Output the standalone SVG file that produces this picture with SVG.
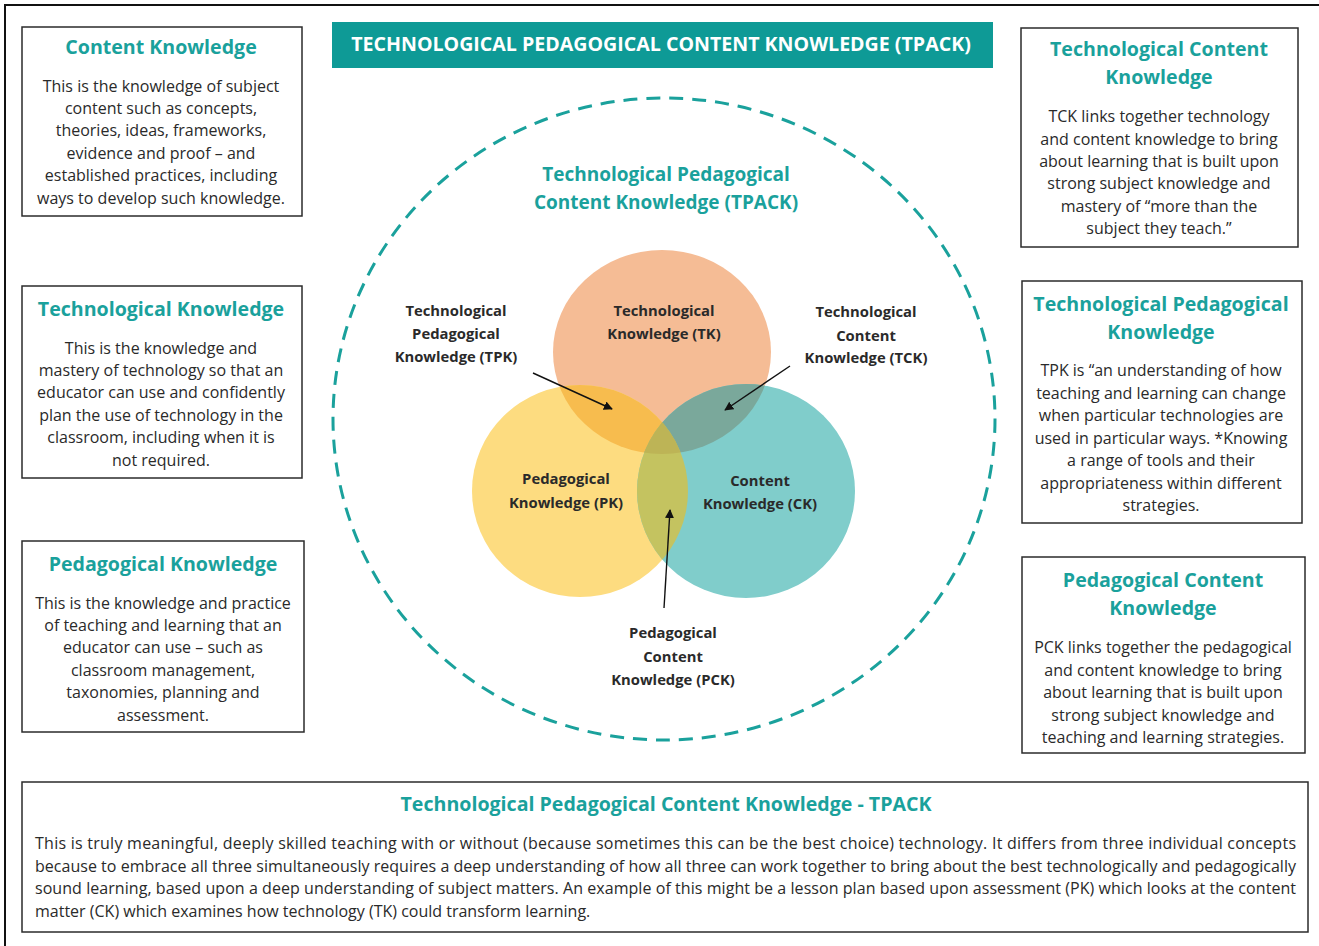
<svg xmlns="http://www.w3.org/2000/svg" width="1319" height="946" viewBox="0 0 1319 946">
<style>
.box{fill:#fff;stroke:#2b2b2b;stroke-width:1.5}
.ttl{font-family:"Open Sans",Lato,sans-serif;font-weight:bold;font-size:19.6px;fill:#1aa19c;text-anchor:middle}
.bd{font-family:"Open Sans",Lato,sans-serif;font-size:16px;fill:#2a2a2a;text-anchor:middle}
.bl{font-family:"Open Sans",Lato,sans-serif;font-size:16px;fill:#2a2a2a}
.vl{font-family:"Open Sans",Lato,sans-serif;font-weight:bold;font-size:14.8px;fill:#2a2a2a;text-anchor:middle}
.arr{stroke:#111;stroke-width:1.4;fill:none;marker-end:url(#ah)}
</style>
<defs>
<marker id="ah" viewBox="0 0 10 10" refX="9" refY="5" markerWidth="9" markerHeight="9" markerUnits="userSpaceOnUse" orient="auto">
<path d="M0,0 L10,5 L0,10 z" fill="#111"/>
</marker>
<clipPath id="cTK"><ellipse cx="662" cy="352" rx="109" ry="102"/></clipPath>
<clipPath id="cPK"><ellipse cx="580" cy="491" rx="108" ry="106"/></clipPath>
<clipPath id="cCK"><ellipse cx="746" cy="491" rx="109" ry="107"/></clipPath>
</defs>
<rect width="1319" height="946" fill="#fff"/>
<path d="M5,946 V5 H1319" fill="none" stroke="#111" stroke-width="2"/>

<g id="banner">
<rect x="332" y="22" width="661" height="46" fill="#0e9a96"/>
<text x="661" y="51" font-family="'Open Sans',Lato,sans-serif" font-weight="bold" font-size="19.6px" fill="#fff" text-anchor="middle">TECHNOLOGICAL PEDAGOGICAL CONTENT KNOWLEDGE (TPACK)</text>
</g>

<g id="tpack-ring">
<ellipse cx="664" cy="419" rx="331" ry="321" fill="none" stroke="#1aa19c" stroke-width="3" stroke-dasharray="14 9"/>
<text class="ttl" x="666" y="181" font-size="19px" style="font-size:19px">Technological Pedagogical</text>
<text class="ttl" x="666" y="209" style="font-size:19px">Content Knowledge (TPACK)</text>
</g>

<g id="venn">
<ellipse cx="662" cy="352" rx="109" ry="102" fill="#f5bc95"/>
<ellipse cx="580" cy="491" rx="108" ry="106" fill="#fddc80"/>
<ellipse cx="746" cy="491" rx="109" ry="107" fill="#80cdcb"/>
<g clip-path="url(#cTK)"><ellipse cx="580" cy="491" rx="108" ry="106" fill="#f7bc4e"/><ellipse cx="746" cy="491" rx="109" ry="107" fill="#7aa89b"/></g>
<g clip-path="url(#cPK)"><ellipse cx="746" cy="491" rx="109" ry="107" fill="#c4c360"/></g>
<g clip-path="url(#cPK)"><g clip-path="url(#cCK)"><ellipse cx="662" cy="352" rx="109" ry="102" fill="#bdb456"/></g></g>
</g>

<g id="tk-label"><text class="vl" x="664" y="316">Technological</text><text class="vl" x="664" y="339">Knowledge (TK)</text></g>
<g id="pk-label"><text class="vl" x="566" y="484">Pedagogical</text><text class="vl" x="566" y="508">Knowledge (PK)</text></g>
<g id="ck-label"><text class="vl" x="760" y="486">Content</text><text class="vl" x="760" y="509">Knowledge (CK)</text></g>
<g id="tpk-label"><text class="vl" x="456" y="316">Technological</text><text class="vl" x="456" y="339">Pedagogical</text><text class="vl" x="456" y="362">Knowledge (TPK)</text></g>
<g id="tck-label"><text class="vl" x="866" y="317">Technological</text><text class="vl" x="866" y="341">Content</text><text class="vl" x="866" y="363">Knowledge (TCK)</text></g>
<g id="pck-label"><text class="vl" x="673" y="638">Pedagogical</text><text class="vl" x="673" y="662">Content</text><text class="vl" x="673" y="685">Knowledge (PCK)</text></g>

<g id="connectors">
<line class="arr" x1="533" y1="373" x2="612" y2="409"/>
<line class="arr" x1="790" y1="366" x2="725" y2="410"/>
<line class="arr" x1="664" y1="608" x2="670" y2="510"/>
</g>

<g id="ck-box">
<rect class="box" x="22" y="27" width="280" height="189"/>
<text class="ttl" x="161" y="54">Content Knowledge</text>
<text class="bd" x="161" y="92">This is the knowledge of subject</text>
<text class="bd" x="161" y="114">content such as concepts,</text>
<text class="bd" x="161" y="136">theories, ideas, frameworks,</text>
<text class="bd" x="161" y="159">evidence and proof – and</text>
<text class="bd" x="161" y="181">established practices, including</text>
<text class="bd" x="161" y="204">ways to develop such knowledge.</text>
</g>

<g id="tk-box">
<rect class="box" x="22" y="286" width="280" height="192"/>
<text class="ttl" x="161" y="316">Technological Knowledge</text>
<text class="bd" x="161" y="354">This is the knowledge and</text>
<text class="bd" x="161" y="376">mastery of technology so that an</text>
<text class="bd" x="161" y="398">educator can use and confidently</text>
<text class="bd" x="161" y="421">plan the use of technology in the</text>
<text class="bd" x="161" y="443">classroom, including when it is</text>
<text class="bd" x="161" y="466">not required.</text>
</g>

<g id="pk-box">
<rect class="box" x="22" y="541" width="282" height="191"/>
<text class="ttl" x="163" y="571">Pedagogical Knowledge</text>
<text class="bd" x="163" y="609">This is the knowledge and practice</text>
<text class="bd" x="163" y="631">of teaching and learning that an</text>
<text class="bd" x="163" y="653">educator can use – such as</text>
<text class="bd" x="163" y="676">classroom management,</text>
<text class="bd" x="163" y="698">taxonomies, planning and</text>
<text class="bd" x="163" y="721">assessment.</text>
</g>

<g id="tck-box">
<rect class="box" x="1021" y="28" width="277" height="219"/>
<text class="ttl" x="1159" y="56">Technological Content</text>
<text class="ttl" x="1159" y="84">Knowledge</text>
<text class="bd" x="1159" y="122">TCK links together technology</text>
<text class="bd" x="1159" y="145">and content knowledge to bring</text>
<text class="bd" x="1159" y="167">about learning that is built upon</text>
<text class="bd" x="1159" y="189">strong subject knowledge and</text>
<text class="bd" x="1159" y="212">mastery of “more than the</text>
<text class="bd" x="1159" y="234">subject they teach.”</text>
</g>

<g id="tpk-box">
<rect class="box" x="1022" y="281" width="280" height="242"/>
<text class="ttl" x="1161" y="311">Technological Pedagogical</text>
<text class="ttl" x="1161" y="339">Knowledge</text>
<text class="bd" x="1161" y="376">TPK is “an understanding of how</text>
<text class="bd" x="1161" y="399">teaching and learning can change</text>
<text class="bd" x="1161" y="421">when particular technologies are</text>
<text class="bd" x="1161" y="444">used in particular ways. *Knowing</text>
<text class="bd" x="1161" y="466">a range of tools and their</text>
<text class="bd" x="1161" y="489">appropriateness within different</text>
<text class="bd" x="1161" y="511">strategies.</text>
</g>

<g id="pck-box">
<rect class="box" x="1022" y="557" width="283" height="196"/>
<text class="ttl" x="1163" y="587">Pedagogical Content</text>
<text class="ttl" x="1163" y="615">Knowledge</text>
<text class="bd" x="1163" y="653">PCK links together the pedagogical</text>
<text class="bd" x="1163" y="676">and content knowledge to bring</text>
<text class="bd" x="1163" y="698">about learning that is built upon</text>
<text class="bd" x="1163" y="721">strong subject knowledge and</text>
<text class="bd" x="1163" y="743">teaching and learning strategies.</text>
</g>

<g id="tpack-box">
<rect class="box" x="22" y="782" width="1286" height="150"/>
<text class="ttl" x="666" y="811">Technological Pedagogical Content Knowledge - TPACK</text>
<text class="bl" x="35" y="849" textLength="1261" lengthAdjust="spacing">This is truly meaningful, deeply skilled teaching with or without (because sometimes this can be the best choice) technology. It differs from three individual concepts</text>
<text class="bl" x="35" y="872" textLength="1261" lengthAdjust="spacing">because to embrace all three simultaneously requires a deep understanding of how all three can work together to bring about the best technologically and pedagogically</text>
<text class="bl" x="35" y="894" textLength="1261" lengthAdjust="spacing">sound learning, based upon a deep understanding of subject matters. An example of this might be a lesson plan based upon assessment (PK) which looks at the content</text>
<text class="bl" x="35" y="917">matter (CK) which examines how technology (TK) could transform learning.</text>
</g>
</svg>
